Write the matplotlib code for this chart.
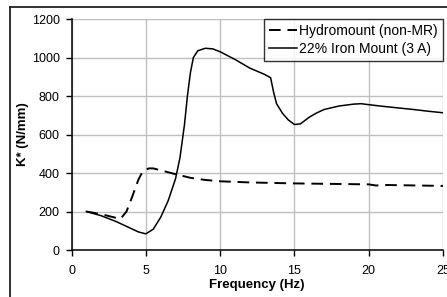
import matplotlib
matplotlib.use("Agg")
import matplotlib.pyplot as plt
from matplotlib.lines import Line2D

plt.rcParams['font.family'] = ['Liberation Sans', 'DejaVu Sans']

# Iron mount (3 A) - solid
freq_iron = [1, 2, 3, 4, 4.5, 5, 5.5, 6, 6.5, 7, 7.3, 7.6, 7.8, 8.0, 8.2, 8.5,
             9, 9.5, 10, 11, 12, 13, 13.4, 13.6, 13.8, 14.2, 14.6, 15, 15.4,
             16, 16.5, 17, 18, 19, 19.5, 20, 21, 22, 23, 24, 25]
k_iron = [200, 178, 148, 112, 94, 84, 108, 170, 255, 370, 480, 650, 800, 920,
          1000, 1035, 1048, 1045, 1030, 990, 945, 912, 895, 820, 760, 710,
          675, 652, 655, 690, 712, 730, 748, 758, 760, 755, 746, 738, 730,
          721, 713]

# Hydromount (non-MR) - dashed
freq_hydro = [1, 2, 3, 3.3, 3.7, 4.1, 4.5, 4.8, 5.2, 5.5, 6, 7, 8, 9, 10, 12,
              15, 18, 20, 20.5, 21, 25]
k_hydro = [200, 186, 167, 162, 200, 280, 365, 410, 424, 424, 414, 394, 375,
           364, 357, 351, 346, 343, 341, 335, 338, 333]

fig = plt.figure(figsize=(4.47, 2.97), dpi=100)
ax = fig.add_axes([0.16, 0.1582, 0.991 - 0.16, 0.936 - 0.1582])

ax.plot(freq_hydro, k_hydro, color='black', linestyle=(0, (6, 3.5)), linewidth=1.4,
        label='Hydromount (non-MR)')
ax.plot(freq_iron, k_iron, color='black', linewidth=1.1,
        label='22% Iron Mount (3 A)')

ax.set_xlim(0, 25)
ax.set_ylim(0, 1200)
ax.set_xticks(range(0, 26, 5))
ax.set_yticks(range(0, 1201, 200))
ax.grid(True, color='#c0c0c0', linewidth=1)
ax.set_axisbelow(True)
for s in ['top', 'right']:
    ax.spines[s].set_visible(False)
for s in ['left', 'bottom']:
    ax.spines[s].set_linewidth(1.1)
ax.tick_params(direction='out', length=4, width=1, labelsize=9)
ax.tick_params(axis='x', pad=6.5)
ax.tick_params(axis='y', pad=4.5)

ax.set_xlabel('Frequency (Hz)', fontsize=9.5, fontweight='bold', labelpad=2)
ax.set_ylabel('K* (N/mm)', fontsize=9.5, fontweight='bold', labelpad=2)

leg = ax.legend(loc='upper right', bbox_to_anchor=(1.0, 1.0), borderaxespad=0,
                fontsize=10, frameon=True, fancybox=False, handlelength=2.0,
                handletextpad=0.2, borderpad=0.35, labelspacing=0.3)
leg.get_frame().set_edgecolor('black')
leg.get_frame().set_linewidth(1)

# outer chart frame
fig.add_artist(Line2D([10 / 447, 10 / 447], [0, 1 - 7 / 297], color='#222222', linewidth=1.3))
fig.add_artist(Line2D([10 / 447, 1], [1 - 7 / 297, 1 - 7 / 297], color='#222222', linewidth=1.3))

fig.savefig('out.png', dpi=100)
